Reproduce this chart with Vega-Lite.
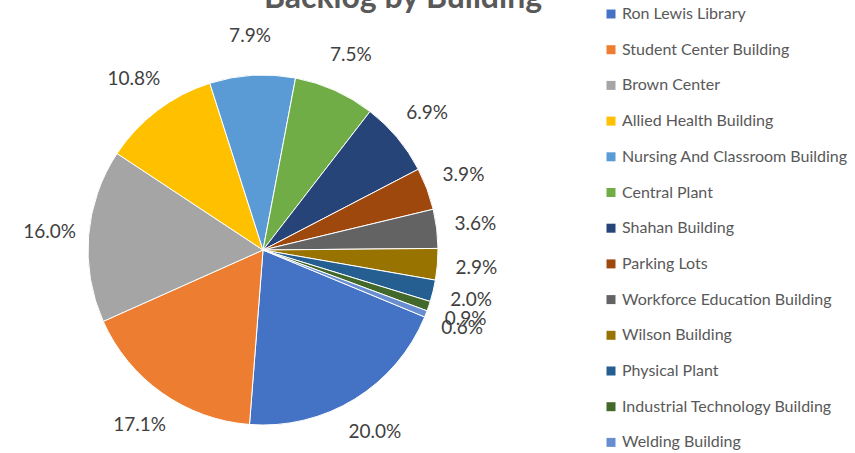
{
  "$schema": "https://vega.github.io/schema/vega-lite/v6.json",
  "autosize": "none",
  "width": 526,
  "height": 452,
  "padding": {"left": 0, "top": 24, "right": 329, "bottom": -23},
  "background": "white",
  "title": {
    "text": "Backlog by Building",
    "font": "Lato",
    "fontSize": 32,
    "fontWeight": "bold",
    "color": "#595959",
    "anchor": "middle",
    "dx": 140,
    "dy": 15,
    "offset": 6
  },
  "data": {
    "values": [
      {"idx": 1, "building": "Ron Lewis Library", "share": 0.200},
      {"idx": 2, "building": "Student Center Building", "share": 0.171},
      {"idx": 3, "building": "Brown Center", "share": 0.160},
      {"idx": 4, "building": "Allied Health Building", "share": 0.108},
      {"idx": 5, "building": "Nursing And Classroom Building", "share": 0.079},
      {"idx": 6, "building": "Central Plant", "share": 0.075},
      {"idx": 7, "building": "Shahan Building", "share": 0.069},
      {"idx": 8, "building": "Parking Lots", "share": 0.039},
      {"idx": 9, "building": "Workforce Education Building", "share": 0.036},
      {"idx": 10, "building": "Wilson Building", "share": 0.029},
      {"idx": 11, "building": "Physical Plant", "share": 0.020},
      {"idx": 12, "building": "Industrial Technology Building", "share": 0.009},
      {"idx": 13, "building": "Welding Building", "share": 0.006}
    ]
  },
  "encoding": {
    "theta": {"field": "share", "type": "quantitative", "stack": true, "scale": {"range": [1.9635, 8.2467]}},
    "order": {"field": "idx", "type": "quantitative"}
  },
  "layer": [
    {
      "mark": {"type": "arc", "outerRadius": 175, "stroke": "white", "strokeWidth": 1},
      "encoding": {
        "color": {
          "field": "building",
          "type": "nominal",
          "scale": {
            "domain": ["Ron Lewis Library", "Student Center Building", "Brown Center", "Allied Health Building", "Nursing And Classroom Building", "Central Plant", "Shahan Building", "Parking Lots", "Workforce Education Building", "Wilson Building", "Physical Plant", "Industrial Technology Building", "Welding Building"],
            "range": ["#4472C4", "#ED7D31", "#A5A5A5", "#FFC000", "#5B9BD5", "#70AD47", "#264478", "#9E480E", "#636363", "#997300", "#255E91", "#43682B", "#698ED0"]
          },
          "legend": {
            "title": null,
            "orient": "none",
            "legendX": 603,
            "legendY": -18,
            "padding": 0,
            "symbolType": "square",
            "symbolSize": 81,
            "symbolStrokeWidth": 0,
            "labelFont": "Lato",
            "labelFontSize": 16,
            "labelColor": "#595959",
            "labelOffset": 3,
            "rowPadding": 19.7,
            "labelLimit": 300
          }
        }
      }
    },
    {
      "mark": {"type": "text", "radius": 214, "font": "Lato", "fontSize": 19, "color": "#404040", "align": "center", "baseline": "middle"},
      "encoding": {
        "text": {"field": "share", "type": "quantitative", "format": ".1%"}
      }
    }
  ]
}
